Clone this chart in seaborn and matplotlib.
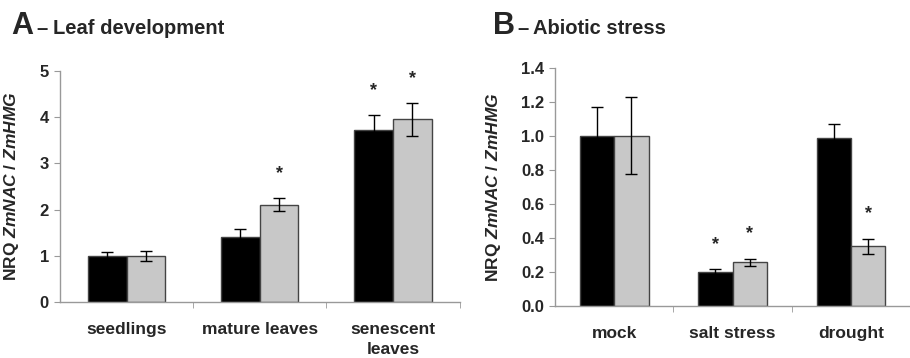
import numpy as np
import pandas as pd
import matplotlib
matplotlib.use('Agg')
import matplotlib.pyplot as plt
import seaborn as sns

# data
leaf_cats = ['seedlings', 'mature leaves', 'senescent\nleaves']
leaf_black = [1.0, 1.4, 3.72]
leaf_black_err = [0.09, 0.19, 0.32]
leaf_grey = [1.0, 2.11, 3.95]
leaf_grey_err = [0.11, 0.14, 0.36]
leaf_stars_black = [False, False, True]
leaf_stars_grey = [False, True, True]

stress_cats = ['mock', 'salt stress', 'drought']
stress_black = [1.0, 0.20, 0.987]
stress_black_err = [0.17, 0.015, 0.085]
stress_grey = [1.0, 0.257, 0.35]
stress_grey_err = [0.225, 0.022, 0.045]
stress_stars_black = [False, True, False]
stress_stars_grey = [False, True, True]

sns.set_style('white')
plt.rcParams['font.family'] = ['Liberation Sans', 'DejaVu Sans']
plt.rcParams['font.weight'] = 'bold'
plt.rcParams['mathtext.fontset'] = 'custom'
plt.rcParams['mathtext.it'] = 'Liberation Sans:bold:italic'
plt.rcParams['mathtext.rm'] = 'Liberation Sans:bold'

fig = plt.figure(figsize=(9.1, 3.58), dpi=100)
axA = fig.add_axes([0.066, 0.156, 0.439, 0.646])
axB = fig.add_axes([0.610, 0.145, 0.390, 0.666])


def panel(ax, cats, black, berr, grey, gerr, sb, sg, ymax, yticks, fmt, xright):
    df = pd.DataFrame({
        'cat': cats * 2,
        'val': black + grey,
        'grp': ['b'] * len(cats) + ['g'] * len(cats),
    })
    sns.barplot(data=df, x='cat', y='val', hue='grp', palette=['black', '#c8c8c8'],
                width=0.58, gap=0, edgecolor='#444444', linewidth=1.0,
                errorbar=None, legend=False, ax=ax)
    for cont, errs, stars in zip(ax.containers, [berr, gerr], [sb, sg]):
        for bar, e, s in zip(cont, errs, stars):
            xc = bar.get_x() + bar.get_width() / 2
            h = bar.get_height()
            ax.errorbar(xc, h, yerr=e, fmt='none', ecolor='black',
                        elinewidth=1.0, capsize=4, capthick=1.0)
            if s:
                ax.text(xc, h + e + 0.105 * ymax, '*', ha='center', va='center',
                        fontsize=13, fontweight='bold')
    ax.set_ylim(0, ymax)
    ax.set_xlim(-0.5, xright)
    ax.set_yticks(yticks)
    ax.set_yticklabels([fmt.format(v) for v in yticks], fontsize=12, fontweight='bold')
    ax.set_xticks(range(len(cats)))
    ax.set_xticklabels(cats, fontsize=12.5, fontweight='bold', linespacing=1.45)
    ax.set_xticks([0.5 + i for i in range(len(cats))], minor=True)
    ax.tick_params(axis='x', which='major', length=0, pad=14)
    ax.tick_params(axis='x', which='minor', length=4, color='#999999', direction='out', bottom=True)
    ax.tick_params(axis='y', length=4, color='#999999', direction='out', left=True, pad=4)
    ax.set_xlabel('')
    ax.set_ylabel('NRQ $\\it{ZmNAC}$ / $\\it{ZmHMG}$', fontsize=12.5, fontweight='bold')
    for sp in ['top', 'right']:
        ax.spines[sp].set_visible(False)
    for sp in ['left', 'bottom']:
        ax.spines[sp].set_color('#999999')
        ax.spines[sp].set_linewidth(1.0)


panel(axA, leaf_cats, leaf_black, leaf_black_err, leaf_grey, leaf_grey_err,
      leaf_stars_black, leaf_stars_grey, 5, [0, 1, 2, 3, 4, 5], '{:g}', 2.5)
panel(axB, stress_cats, stress_black, stress_black_err, stress_grey, stress_grey_err,
      stress_stars_black, stress_stars_grey, 1.4, [0, 0.2, 0.4, 0.6, 0.8, 1.0, 1.2, 1.4], '{:.1f}', 2.434)

# label centres (x ~ 21 px and ~ 503 px)
axA.yaxis.set_label_coords(-(60 - 21) / 400, 0.5)
axB.yaxis.set_label_coords(-(555 - 503) / 355, 0.5)

fig.text(0.012, 0.905, 'A', fontsize=22, fontweight='bold', va='baseline')
fig.text(0.040, 0.905, '–', fontsize=14.5, fontweight='bold', va='baseline')
fig.text(0.058, 0.905, 'Leaf development', fontsize=14.5, fontweight='bold', va='baseline')
fig.text(0.542, 0.905, 'B', fontsize=22, fontweight='bold', va='baseline')
fig.text(0.568, 0.905, '–', fontsize=14.5, fontweight='bold', va='baseline')
fig.text(0.586, 0.905, 'Abiotic stress', fontsize=14.5, fontweight='bold', va='baseline')

fig.savefig('out.png', dpi=100)
